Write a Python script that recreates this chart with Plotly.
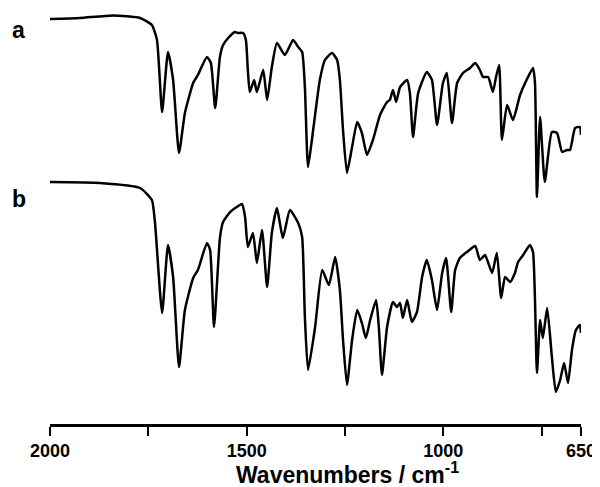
import plotly.graph_objects as go

# Spectrum a (wavenumber, transmittance a.u.)
wn_a = [2000, 1924, 1840, 1771, 1741, 1728, 1715, 1700, 1687, 1672,
        1657, 1636, 1624, 1601, 1591, 1580, 1568, 1560, 1547, 1530,
        1522, 1509, 1502, 1497, 1492, 1481, 1474, 1458, 1448, 1436,
        1423, 1403, 1382, 1369, 1359, 1352, 1344, 1331, 1314, 1301,
        1283, 1270, 1263, 1255, 1245, 1232, 1219, 1207, 1194, 1179,
        1161, 1143, 1136, 1128, 1120, 1110, 1092, 1085, 1077, 1064,
        1042, 1029, 1016, 1001, 991, 978, 965, 950, 932, 919,
        907, 899, 886, 874, 866, 858, 851, 838, 823, 805,
        792, 772, 767, 762, 754, 742, 724, 711, 698, 686,
        678, 665, 653, 650]
t_a = [405, 406, 408.5, 406, 399, 384, 312, 372, 344, 271,
       311, 341, 349, 367, 361, 316, 367, 379, 386, 392,
       391, 391, 384, 354, 332, 344, 332, 354, 324, 357,
       381, 369, 384, 377, 372, 337, 257, 294, 344, 364,
       371, 364, 344, 294, 251, 277, 302, 291, 269, 284,
       309, 322, 324, 334, 322, 337, 344, 331, 287, 331,
       352, 344, 299, 341, 351, 301, 341, 351, 356, 361,
       354, 347, 347, 332, 347, 359, 284, 319, 304, 329,
       341, 356, 341, 227, 307, 242, 292, 291, 272, 274,
       274, 296, 297, 289]

# Spectrum b
wn_b = [2000, 1873, 1771, 1741, 1733, 1715, 1700, 1687, 1672, 1657,
        1636, 1624, 1601, 1593, 1583, 1568, 1560, 1542, 1525, 1512,
        1504, 1497, 1484, 1474, 1461, 1448, 1436, 1423, 1408, 1390,
        1369, 1359, 1352, 1344, 1326, 1308, 1291, 1275, 1263, 1255,
        1245, 1232, 1219, 1207, 1197, 1186, 1171, 1164, 1156, 1143,
        1128, 1118, 1110, 1103, 1092, 1080, 1067, 1054, 1042, 1029,
        1016, 1003, 993, 980, 970, 958, 940, 919, 907, 894,
        876, 864, 853, 843, 830, 818, 810, 797, 780, 772,
        762, 754, 747, 736, 724, 714, 703, 693, 683, 673,
        663, 653, 650]
t_b = [242, 241, 236, 224, 201, 111, 179, 147, 57, 114,
       146, 154, 181, 174, 97, 186, 202, 212, 217, 220,
       207, 177, 191, 161, 194, 137, 191, 216, 186, 214,
       201, 187, 107, 54, 97, 154, 139, 167, 134, 84,
       39, 84, 114, 101, 86, 104, 124, 97, 49, 97,
       122, 117, 121, 106, 124, 102, 112, 147, 164, 144,
       114, 151, 166, 112, 154, 166, 172, 178, 164, 169,
       151, 171, 126, 147, 142, 151, 162, 169, 179, 172,
       51, 104, 86, 116, 67, 32, 44, 61, 41, 74,
       94, 99, 91]

tick_vals = [2000, 1500, 1000, 650]
tick_text = ["<b>2000</b>", "<b>1500</b>", "<b>1000</b>", "<b>650</b>"]
minor_tick_vals = [1750, 1250, 750]
labels = ["a", "b"]
label_y = [394, 225]
x_title = "<b>Wavenumbers / cm<sup>-1</sup></b>"

FONT = "Liberation Sans, Arial, sans-serif"

fig = go.Figure()
for wn, t in [(wn_a, t_a), (wn_b, t_b)]:
    fig.add_trace(go.Scatter(x=wn, y=t, mode="lines",
                             line=dict(color="black", width=2.5, shape="spline", smoothing=0.5),
                             showlegend=False, hoverinfo="skip"))

for lab, ly in zip(labels, label_y):
    fig.add_annotation(x=-0.0754, y=ly, xref="paper", yref="y", text="<b>%s</b>" % lab,
                       showarrow=False, font=dict(family=FONT, size=23, color="black"))

fig.add_annotation(x=0.561, y=-0.117, xref="paper", yref="paper", text=x_title,
                   showarrow=False, xanchor="center", yanchor="middle",
                   font=dict(family=FONT, size=23, color="black"))

fig.update_layout(
    width=600, height=487,
    margin=dict(l=42, r=27, t=0, b=71),
    plot_bgcolor="white", paper_bgcolor="white",
    xaxis=dict(range=[2000, 650], tickvals=tick_vals, ticktext=tick_text,
               showgrid=False, zeroline=False, showline=True, linecolor="black", linewidth=2.5,
               ticks="outside", ticklen=9, tickwidth=2, tickcolor="black",
               tickfont=dict(family=FONT, size=18, color="black"),
               minor=dict(tickvals=minor_tick_vals, ticks="outside", ticklen=9, tickwidth=2,
                          tickcolor="black", showgrid=False)),
    yaxis=dict(range=[0, 416], visible=False, showgrid=False, zeroline=False),
)

fig.write_html("out.html")
